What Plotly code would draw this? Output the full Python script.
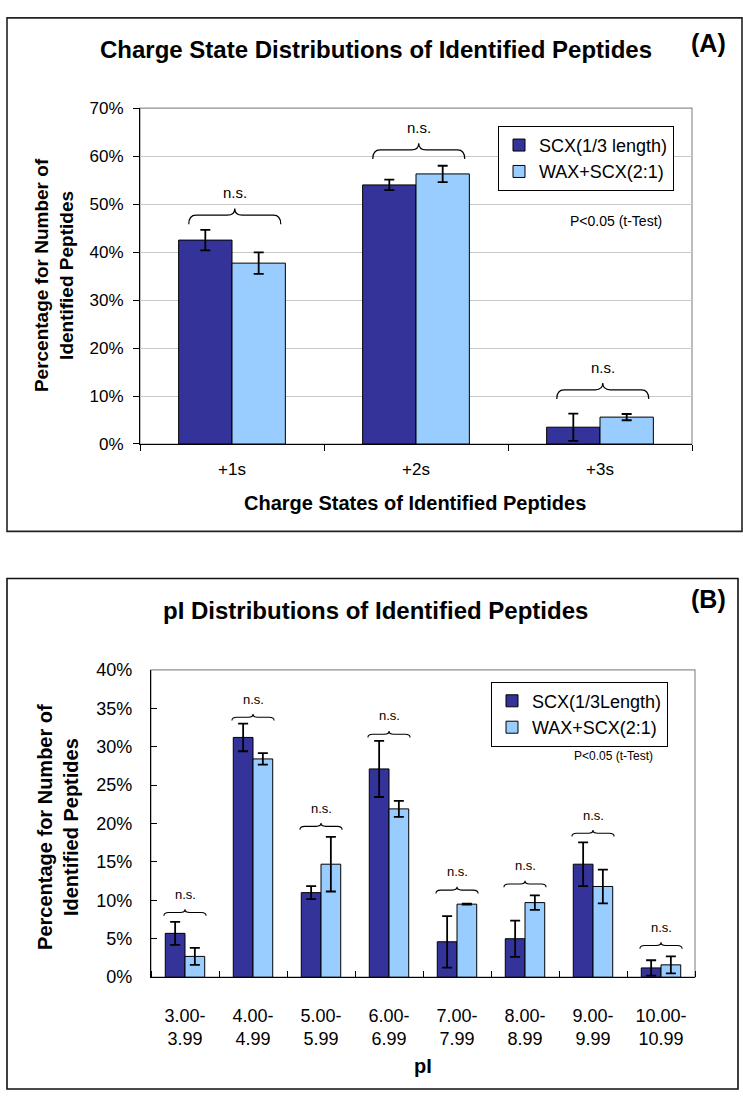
import plotly.graph_objects as go

# ---------------- data ----------------
charge_states = ["+1s", "+2s", "+3s"]
scx_a = [42.5, 54.0, 3.5]
scx_a_err = [2.15, 1.1, 2.85]
wax_a = [37.7, 56.3, 5.6]
wax_a_err = [2.25, 1.7, 0.65]
bracket_a = [45.8, 59.4, 9.4]      # lower ends of the n.s. braces (%)

pi_ranges = ["3.00-<br>3.99", "4.00-<br>4.99", "5.00-<br>5.99", "6.00-<br>6.99",
             "7.00-<br>7.99", "8.00-<br>8.99", "9.00-<br>9.99", "10.00-<br>10.99"]
scx_b = [5.7, 31.2, 11.0, 27.1, 4.6, 5.0, 14.7, 1.2]
scx_b_err = [1.5, 1.8, 0.85, 3.65, 3.35, 2.35, 2.85, 1.0]
wax_b = [2.7, 28.4, 14.7, 21.9, 9.5, 9.7, 11.8, 1.6]
wax_b_err = [1.1, 0.75, 3.55, 1.05, 0.05, 0.95, 2.2, 1.1]
bracket_b = [8.0, 33.4, 19.2, 31.2, 10.9, 11.7, 18.3, 3.7]

names_a = ["SCX(1/3 length)", "WAX+SCX(2:1)"]
names_b = ["SCX(1/3Length)", "WAX+SCX(2:1)"]

DARK = "#333399"
LIGHT = "#99CCFF"
FONT = "Liberation Sans, Arial, sans-serif"

W, H = 743, 1103
def px(x):
    return x / W
def py(y):
    return 1 - y / H

fig = go.Figure()

def add_bars(xs, vals, errs, name, color, xa, ya, legend, group):
    fig.add_trace(go.Bar(
        x=xs, y=vals, name=name, xaxis=xa, yaxis=ya, legend=legend,
        offsetgroup=group,
        marker=dict(color=color, line=dict(color="black", width=1)),
        error_y=dict(type="data", array=errs, visible=True, color="black",
                     thickness=1.8, width=5),
    ))

xa_idx = list(range(len(charge_states)))
xb_idx = list(range(len(pi_ranges)))
add_bars(xa_idx, scx_a, scx_a_err, names_a[0], DARK, "x", "y", "legend", "1")
add_bars(xa_idx, wax_a, wax_a_err, names_a[1], LIGHT, "x", "y", "legend", "2")
add_bars(xb_idx, scx_b, scx_b_err, names_b[0], DARK, "x2", "y2", "legend2", "1")
add_bars(xb_idx, wax_b, wax_b_err, names_b[1], LIGHT, "x2", "y2", "legend2", "2")

def brace(xc, hw, y0, yline, ypeak, dx):
    x0, x1 = xc - hw, xc + hw
    return (f"M{x0},{y0} Q{x0},{yline} {x0+dx},{yline} L{xc-dx},{yline} "
            f"Q{xc},{yline} {xc},{ypeak} Q{xc},{yline} {xc+dx},{yline} "
            f"L{x1-dx},{yline} Q{x1},{yline} {x1},{y0}")

shapes = []
annotations = []
for i, b in enumerate(bracket_a):
    shapes.append(dict(type="path", xref="x", yref="y",
                       path=brace(i + 0.015, 0.25, b, b + 1.9, b + 3.3, 0.04),
                       line=dict(color="black", width=1.2)))
    annotations.append(dict(x=i + 0.015, y=b + 6.6, xref="x", yref="y", text="n.s.",
                            showarrow=False, xanchor="center", yanchor="middle",
                            font=dict(family=FONT, size=15, color="black")))
for i, b in enumerate(bracket_b):
    shapes.append(dict(type="path", xref="x2", yref="y2",
                       path=brace(i, 0.31, b, b + 0.42, b + 0.85, 0.07),
                       line=dict(color="black", width=1.1)))
    annotations.append(dict(x=i, y=b + 2.8, xref="x2", yref="y2", text="n.s.",
                            showarrow=False, xanchor="center", yanchor="middle",
                            font=dict(family=FONT, size=13, color="black")))

# plot-area frames (grey top/right)
for xr, yr in (("x domain", "y domain"), ("x2 domain", "y2 domain")):
    shapes.append(dict(type="rect", xref=xr, yref=yr, x0=0, x1=1, y0=0, y1=1,
                       line=dict(color="#909090", width=1.2), layer="below"))

# panel borders
shapes.append(dict(type="rect", xref="paper", yref="paper",
                   x0=px(7), x1=px(742), y0=py(531), y1=py(8),
                   line=dict(color="#222222", width=1.6)))
shapes.append(dict(type="rect", xref="paper", yref="paper",
                   x0=px(7), x1=px(738), y0=py(1099), y1=py(579),
                   line=dict(color="#111111", width=1.6)))

def pa(x, y, text, size, bold=True, angle=0):
    annotations.append(dict(x=px(x), y=py(y), xref="paper", yref="paper", text=text,
                            showarrow=False, textangle=angle,
                            xanchor="center", yanchor="middle",
                            font=dict(family=FONT, size=size, color="black",
                                      weight="bold" if bold else "normal")))

pa(376, 40, "Charge State Distributions of Identified Peptides", 24)
pa(708, 34, "(A)", 25)
pa(415, 502, "Charge States of Identified Peptides", 20)
pa(54, 270, "Percentage for Number of<br>Identified Peptides", 19, angle=-90)
pa(616, 215, "P<0.05 (t-Test)", 14, bold=False)

pa(375, 612, "pI Distributions of Identified Peptides", 24)
pa(708, 600, "(B)", 25)
pa(423, 1075, "pI", 20)
pa(58, 832, "Percentage for Number of<br>Identified Peptides", 20, angle=-90)
pa(613, 760, "P<0.05 (t-Test)", 12, bold=False)

tickfont = dict(family=FONT, size=17, color="black")
tickfont_b = dict(family=FONT, size=18, color="black")

fig.update_layout(
    width=W, height=H, autosize=False,
    margin=dict(l=0, r=0, t=0, b=0),
    paper_bgcolor="white", plot_bgcolor="white",
    barmode="group", bargap=0.42, bargroupgap=0,
    font=dict(family=FONT, color="black"),
    shapes=shapes, annotations=annotations,
    xaxis=dict(domain=[px(140), px(692)], range=[-0.5, 2.5],
               tickvals=xa_idx, ticktext=charge_states, ticks="", tickfont=tickfont,
               ticklabelstandoff=10,
               minor=dict(tickvals=[-0.5, 0.5, 1.5, 2.5], ticks="outside", ticklen=6,
                          tickcolor="black", showgrid=False),
               showline=True, linecolor="black", linewidth=1.2, showgrid=False,
               zeroline=False),
    yaxis=dict(domain=[py(442), py(100)], range=[0, 70], dtick=10, ticksuffix="%",
               ticks="outside", ticklen=6, tickcolor="black", tickfont=tickfont,
               ticklabelstandoff=6,
               showline=True, linecolor="black", linewidth=1.2,
               showgrid=True, gridcolor="#c8c8c8", gridwidth=1, zeroline=False),
    xaxis2=dict(domain=[px(151), px(695)], range=[-0.5, 7.5], anchor="y2",
                tickvals=xb_idx, ticktext=pi_ranges, ticks="", tickfont=tickfont_b,
                ticklabelstandoff=22,
                minor=dict(tickvals=[i - 0.5 for i in range(len(pi_ranges) + 1)],
                           ticks="inside", ticklen=6, tickcolor="black", showgrid=False),
                showline=True, linecolor="black", linewidth=1.2, showgrid=False,
                zeroline=False),
    yaxis2=dict(domain=[py(985), py(672)], range=[0, 40], dtick=5, ticksuffix="%",
                anchor="x2", ticks="inside", ticklen=6, tickcolor="black",
                tickfont=tickfont_b, ticklabelstandoff=14,
                showline=True, linecolor="black", linewidth=1.2,
                showgrid=False, zeroline=False),
    legend=dict(x=px(498), y=py(118), xanchor="left", yanchor="top",
                bgcolor="white", bordercolor="black", borderwidth=1,
                font=dict(family=FONT, size=18, color="black")),
    legend2=dict(x=px(491), y=py(684), xanchor="left", yanchor="top",
                 bgcolor="white", bordercolor="black", borderwidth=1,
                 font=dict(family=FONT, size=18, color="black")),
)

fig.write_html("out.html")
